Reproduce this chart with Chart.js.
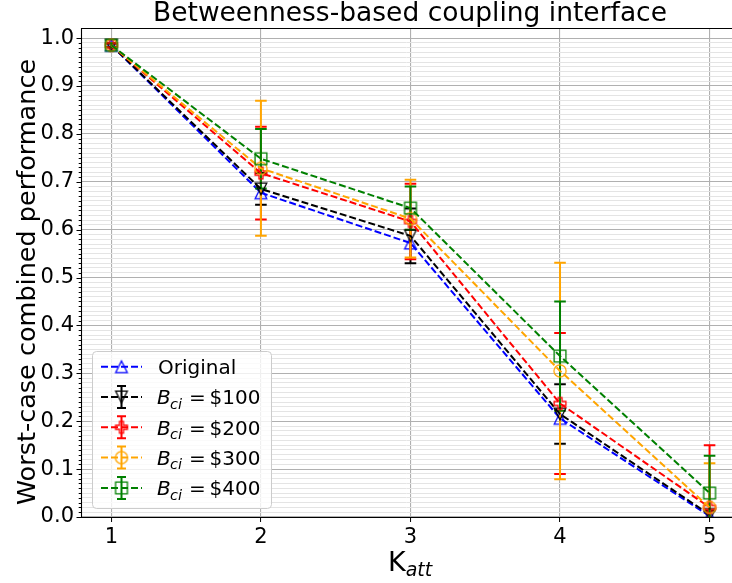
<!DOCTYPE html>
<html><head><meta charset="utf-8">
<script src="https://cdn.jsdelivr.net/npm/chart.js@4.4.0/dist/chart.umd.min.js"></script>
<style>
html,body{margin:0;padding:0;overflow:hidden;background:#fff;width:732px;height:583px}
#wrap{width:732px;height:583px}
canvas{display:block}
</style>
</head><body><div id="wrap"><canvas id="c" width="732" height="583" style="width:732px;height:583px"></canvas></div>
<script>
// ---------- data ----------
const kAtt = [1, 2, 3, 4, 5];
const originalPerf = [0.985, 0.677, 0.572, 0.206, 0.002];
const b100Perf = [0.985, 0.685, 0.587, 0.215, 0.005];
const b100Err  = [0.004, 0.033, 0.057, 0.062, 0.008];
const b200Perf = [0.985, 0.718, 0.617, 0.237, 0.020];
const b200Err  = [0.004, 0.097, 0.079, 0.147, 0.130];
const b300Perf = [0.985, 0.728, 0.623, 0.305, 0.020];
const b300Err  = [0.004, 0.141, 0.081, 0.226, 0.092];
const b400Perf = [0.985, 0.748, 0.645, 0.336, 0.050];
const b400Err  = [0.004, 0.062, 0.045, 0.114, 0.078];
const yTickLabels = ['0.0','0.1','0.2','0.3','0.4','0.5','0.6','0.7','0.8','0.9','1.0'];
const budgetLabels = ['$100', '$200', '$300', '$400'];

// ---------- styles ----------
const FONT = "'DejaVu Sans', sans-serif";
const series = [
  {name: 'Original', values: originalPerf, errors: null, color: '#0000ff', marker: 'triup'},
  {name: budgetLabels[0], values: b100Perf, errors: b100Err, color: '#000000', marker: 'tridown'},
  {name: budgetLabels[1], values: b200Perf, errors: b200Err, color: '#ff0000', marker: 'plus'},
  {name: budgetLabels[2], values: b300Perf, errors: b300Err, color: '#ffa500', marker: 'circle'},
  {name: budgetLabels[3], values: b400Perf, errors: b400Err, color: '#008000', marker: 'square'}
];

function markerCanvas(kind, color) {
  const S = 18, c = document.createElement('canvas');
  c.width = S; c.height = S;
  const g = c.getContext('2d');
  g.strokeStyle = color; g.lineWidth = 1.3; g.lineJoin = 'miter';
  const m = S / 2;
  g.beginPath();
  if (kind === 'triup') {
    const h = 5.8;
    g.moveTo(m, m - h); g.lineTo(m + h, m + h); g.lineTo(m - h, m + h); g.closePath();
  } else if (kind === 'tridown') {
    const h = 5.8;
    g.moveTo(m, m + h); g.lineTo(m + h, m - h); g.lineTo(m - h, m - h); g.closePath();
  } else if (kind === 'square') {
    g.rect(m - 5.9, m - 5.9, 11.8, 11.8);
  } else if (kind === 'circle') {
    g.arc(m, m, 6.1, 0, Math.PI * 2);
  } else if (kind === 'plus') {
    const a = 5.9, b = 2.0;
    const pts = [[-b,-a],[b,-a],[b,-b],[a,-b],[a,b],[b,b],[b,a],[-b,a],[-b,b],[-a,b],[-a,-b],[-b,-b]];
    pts.forEach((p, i) => i ? g.lineTo(m + p[0], m + p[1]) : g.moveTo(m + p[0], m + p[1]));
    g.closePath();
  }
  g.stroke();
  return c;
}
series.forEach(s => s.img = markerCanvas(s.marker, s.color));

const datasets = series.map((s, i) => ({
  label: s.name,
  data: kAtt.map((k, j) => ({x: k, y: s.values[j]})),
  borderColor: s.color,
  backgroundColor: 'transparent',
  borderWidth: 2,
  borderDash: [7, 3],
  pointStyle: s.img,
  pointRadius: 6,
  pointHoverRadius: 6,
  fill: false,
  tension: 0,
  order: series.length - 1 - i
}));

function isMajor(v) { return Math.abs(v * 10 - Math.round(v * 10)) < 1e-6; }

const errorBars = {
  id: 'errorBars',
  afterDatasetDraw(chart, args) {
    if (args.index !== 0) return;
    const ctx = chart.ctx, xs = chart.scales.x, ys = chart.scales.y, a = chart.chartArea;
    ctx.save();
    ctx.beginPath(); ctx.rect(a.left, a.top, a.right - a.left, a.bottom - a.top); ctx.clip();
    ctx.lineWidth = 2;
    series.forEach(s => {
      if (!s.errors) return;
      ctx.strokeStyle = s.color;
      kAtt.forEach((k, j) => {
        const x = xs.getPixelForValue(k);
        const y1 = ys.getPixelForValue(s.values[j] + s.errors[j]);
        const y0 = ys.getPixelForValue(s.values[j] - s.errors[j]);
        ctx.beginPath();
        ctx.moveTo(x, y1); ctx.lineTo(x, y0);
        ctx.moveTo(x - 5.8, y1); ctx.lineTo(x + 5.8, y1);
        ctx.moveTo(x - 5.8, y0); ctx.lineTo(x + 5.8, y0);
        ctx.stroke();
      });
    });
    ctx.restore();
  }
};

const decorations = {
  id: 'decorations',
  afterDatasetsDraw(chart) {
    const ctx = chart.ctx, a = chart.chartArea, ys = chart.scales.y;
    ctx.save();
    ctx.strokeStyle = '#000'; ctx.lineWidth = 1.1;
    ctx.beginPath();
    const L = Math.round(a.left) + 0.5, T = Math.round(a.top) + 0.5, B = Math.round(a.bottom) + 0.5, R = chart.width + 5;
    ctx.moveTo(R, T); ctx.lineTo(L, T); ctx.lineTo(L, B); ctx.lineTo(R, B);
    ctx.stroke();
    ctx.lineWidth = 1;
    ys.ticks.forEach(t => {
      const y = Math.round(ys.getPixelForValue(t.value)) + 0.5;
      const len = isMajor(t.value) ? 5 : 2.8;
      ctx.beginPath(); ctx.moveTo(L, y); ctx.lineTo(L - len, y); ctx.stroke();
    });
    ctx.restore();
  },
  afterDraw(chart) {
    const ctx = chart.ctx;
    ctx.save();
    ctx.fillStyle = '#000';
    // title
    ctx.font = '26.5px ' + FONT; ctx.textAlign = 'center'; ctx.textBaseline = 'middle';
    ctx.fillText('Betweenness-based coupling interface', 410, 14);
    // x label K_att
    ctx.textAlign = 'left'; ctx.textBaseline = 'alphabetic';
    ctx.font = '27px ' + FONT;
    const kw = ctx.measureText('K').width;
    const kx = 388;
    ctx.fillText('K', kx, 571);
    ctx.font = 'italic 19px ' + FONT;
    ctx.fillText('att', kx + kw, 576);
    // y label
    ctx.translate(28, 282); ctx.rotate(-Math.PI / 2);
    ctx.font = '25.5px ' + FONT; ctx.textAlign = 'center'; ctx.textBaseline = 'middle';
    ctx.fillText('Worst-case combined performance', 0, 0);
    ctx.restore();

    // legend
    ctx.save();
    ctx.fillStyle = 'rgba(255,255,255,0.8)';
    ctx.strokeStyle = '#cccccc'; ctx.lineWidth = 1;
    ctx.beginPath();
    ctx.roundRect(92.5, 351.5, 179, 157, 4);
    ctx.fill(); ctx.stroke();
    series.forEach((s, i) => {
      const yc = 366.7 + i * 30.3;
      ctx.strokeStyle = s.color; ctx.lineWidth = 2; ctx.setLineDash([7, 3]);
      ctx.beginPath(); ctx.moveTo(101, yc); ctx.lineTo(142, yc); ctx.stroke();
      ctx.setLineDash([]);
      if (s.errors) {
        ctx.beginPath();
        ctx.moveTo(121.5, yc - 11); ctx.lineTo(121.5, yc + 11);
        ctx.moveTo(117, yc - 11); ctx.lineTo(126, yc - 11);
        ctx.moveTo(117, yc + 11); ctx.lineTo(126, yc + 11);
        ctx.stroke();
      }
      ctx.drawImage(s.img, 121.5 - s.img.width / 2, yc - s.img.height / 2);
      ctx.fillStyle = '#000'; ctx.textBaseline = 'alphabetic'; ctx.textAlign = 'left';
      const base = yc + 7.3;
      if (!s.errors) {
        ctx.font = '20px ' + FONT;
        ctx.fillText(s.name, 158, base);
      } else {
        ctx.font = 'italic 20px ' + FONT;
        ctx.fillText('B', 157, base);
        ctx.font = 'italic 14.5px ' + FONT;
        ctx.fillText('ci', 170, base + 4.5);
        ctx.font = '20px ' + FONT;
        ctx.fillText('=', 189, base);
        ctx.fillText(s.name, 209.5, base);
      }
    });
    ctx.restore();
  }
};

new Chart(document.getElementById('c'), {
  type: 'line',
  data: {datasets},
  plugins: [errorBars, decorations],
  options: {
    responsive: false, animation: false, devicePixelRatio: 1,
    events: [],
    layout: {autoPadding: false, padding: {top: 28, left: 0, right: 0, bottom: 0}},
    plugins: {legend: {display: false}, title: {display: false}, tooltip: {enabled: false}},
    scales: {
      x: {
        type: 'linear', min: 0.797, max: 5.15,
        afterBuildTicks: sc => { sc.ticks = kAtt.map(v => ({value: v})); },
        afterFit: sc => { sc.height = 66; sc.paddingLeft = 0; sc.paddingRight = 0; },
        ticks: {font: {family: FONT, size: 21}, color: '#000', padding: 3, autoSkip: false, maxRotation: 0,
                callback: v => String(v)},
        grid: {color: '#b0b0b0', lineWidth: 1.1, drawTicks: true, tickLength: 5, tickColor: '#000', tickWidth: 1},
        border: {display: false}
      },
      y: {
        type: 'linear', min: 0, max: 1.021,
        afterBuildTicks: sc => { const t = []; for (let i = 0; i <= 100; i++) t.push({value: i / 100}); sc.ticks = t; },
        afterFit: sc => { sc.width = 81; },
        ticks: {font: {family: FONT, size: 21}, color: '#000', padding: 7, autoSkip: false,
                callback: v => isMajor(v) ? yTickLabels[Math.round(v * 10)] : ''},
        grid: {color: c => isMajor(c.tick.value) ? '#b0b0b0' : '#e4e4e4',
               lineWidth: c => isMajor(c.tick.value) ? 1.1 : 1, drawTicks: false},
        border: {display: false}
      }
    }
  }
});
</script>
</body></html>
